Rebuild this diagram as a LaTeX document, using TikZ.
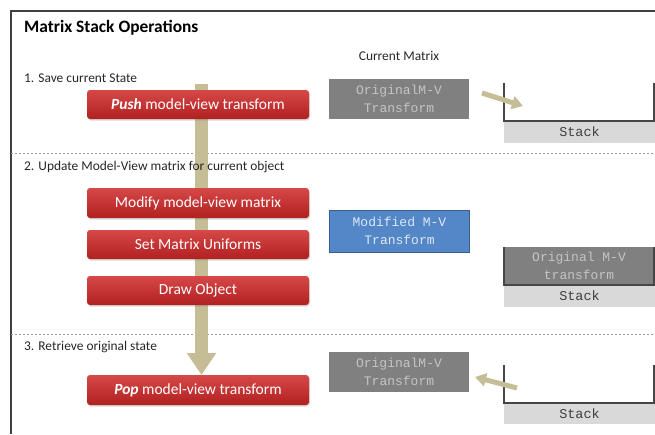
\documentclass[tikz,border=0pt]{standalone}
\usepackage{fontspec}
\setmainfont{Carlito}
\newfontfamily\monofont{Liberation Mono}
\usetikzlibrary{arrows.meta,shadows}
\definecolor{tan}{RGB}{196,189,150}
\definecolor{redtop}{RGB}{214,72,72}
\definecolor{redbot}{RGB}{178,32,32}
\definecolor{boxgray}{RGB}{128,128,128}
\definecolor{boxtext}{RGB}{196,196,196}
\definecolor{bandgray}{RGB}{217,217,217}
\definecolor{mvblue}{RGB}{84,135,200}
\definecolor{lineDark}{RGB}{70,70,70}
\tikzset{
  redbox/.style={rectangle, rounded corners=3pt, top color=redtop, bottom color=redbot,
    minimum width=222pt, text=white,
    font=\fontsize{15.5}{17}\selectfont, drop shadow={shadow xshift=1pt, shadow yshift=-1.5pt, opacity=0.3}},
  matbox/.style={rectangle, fill=boxgray, minimum width=140pt, minimum height=40pt,
    text=boxtext, align=center, font=\monofont\fontsize{13}{18.5}\selectfont, inner sep=0pt},
  band/.style={rectangle, fill=bandgray, minimum width=151pt, minimum height=21pt, inner sep=0pt,
    text=black!75, font=\monofont\fontsize{13.5}{15}\selectfont},
  container/.style={draw=lineDark, line width=1.3pt},
  steplabel/.style={anchor=west, inner sep=0pt, font=\fontsize{13.4}{15}\selectfont, text=black!85},
  divider/.style={draw=black!40, dashed, dash pattern=on 2pt off 2pt, line width=0.9pt},
  tanarrow/.style={draw=tan, line width=5pt, -{Triangle[width=13pt,length=11pt]}}
}
\begin{document}
\begin{tikzpicture}[x=1pt,y=-1pt]
\useasboundingbox (0,0) rectangle (655,434);
% frame
\draw[draw=black!75, line width=1.6pt] (11,434) -- (11,11) -- (655,11);
% dividers
\draw[divider] (11,153) -- (655,153);
\draw[divider] (11,334) -- (655,334);
% big vertical arrow
\coordinate (bartop) at (201.5,84);
\coordinate (barend) at (201.5,375);
\draw[draw=tan, line width=13pt, -{Triangle[width=28pt,length=22pt]}] (bartop) -- (barend);
% title and labels
\node[anchor=west, inner sep=0pt, font=\bfseries\fontsize{17.4}{19}\selectfont] (title) at (24,28) {Matrix Stack Operations};
\node[inner sep=0pt, font=\fontsize{13.4}{15}\selectfont, text=black!85] (cur) at (399,56) {Current Matrix};
\node[steplabel] (s1) at (24,78) {1. Save current State};
\node[steplabel] (s2) at (24,167) {2. Update Model-View matrix for current object};
\node[steplabel] (s3) at (24,347) {3. Retrieve original state};
% red boxes
\node[redbox, minimum height=29pt] (push) at (198,104.5) {\textbf{\textit{Push}} model-view transform};
\node[redbox, minimum height=30pt] (modify) at (198,203) {Modify model-view matrix};
\node[redbox, minimum height=29pt] (setu) at (198,244.5) {Set Matrix Uniforms};
\node[redbox, minimum height=29pt] (drawo) at (198,290.5) {Draw Object};
\node[redbox, minimum height=30pt] (pop) at (198,390) {\textbf{\textit{Pop}} model-view transform};
% current matrices
\node[matbox] (cm1) at (399,99) {OriginalM-V\\Transform};
\node[matbox, fill=mvblue, draw=mvblue!70!black, line width=0.8pt, text=white!80!mvblue, minimum height=42pt] (cm2) at (399.5,231) {Modified M-V\\Transform};
\node[matbox] (cm3) at (399,372) {OriginalM-V\\Transform};
% stack 1
\node[band] (st1) at (579.5,132) {Stack};
\draw[container] (504,83) -- (504,121) -- (654,121) -- (654,83);
\coordinate (a1s) at (482,93);
\coordinate (a1e) at (523,106);
\draw[tanarrow] (a1s) -- (a1e);
% stack 2
\node[matbox, minimum width=150pt, minimum height=38pt] (sv2) at (579,266) {Original M-V\\transform};
\node[band] (st2) at (579.5,296) {Stack};
\draw[container] (504,247) -- (504,285) -- (654,285) -- (654,247);
% stack 3
\node[band] (st3) at (579.5,413.5) {Stack};
\draw[container] (504,365) -- (504,403) -- (654,403) -- (654,365);
\coordinate (a3s) at (517,388);
\coordinate (a3e) at (475,377);
\draw[tanarrow] (a3s) -- (a3e);
\end{tikzpicture}
\end{document}
